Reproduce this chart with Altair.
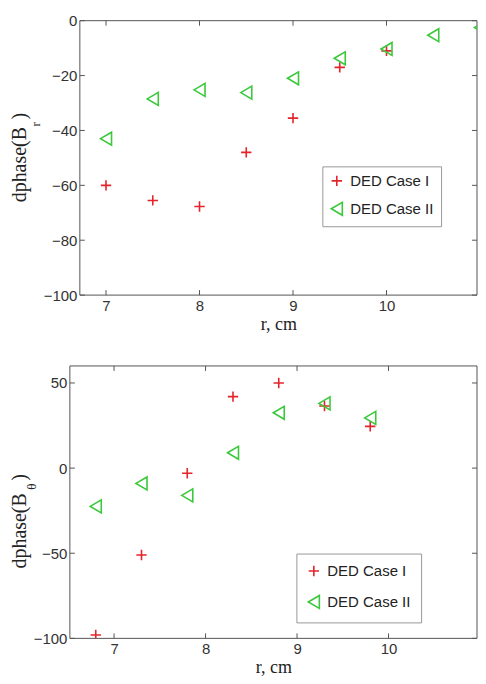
import altair as alt
import pandas as pd

# ---- data ----
series_names = ["DED Case I", "DED Case II"]

r_top_case1 = [7, 7.5, 8, 8.5, 9, 9.5, 10]
dphase_br_case1 = [-60, -65.5, -67.7, -48, -35.5, -17, -11]
r_top_case2 = [7, 7.5, 8, 8.5, 9, 9.5, 10, 10.5, 11]
dphase_br_case2 = [-43, -28.5, -25.2, -26.2, -21, -13.7, -10.3, -5.3, -2.5]

r_bot = [6.8, 7.3, 7.8, 8.3, 8.8, 9.3, 9.8]
dphase_bt_case1 = [-98, -51, -3, 42, 50, 36.5, 24.5]
dphase_bt_case2 = [-22.5, -9, -16, 9, 32.5, 38, 29.5]

top_xdomain = [6.72, 10.968]
top_ydomain = [-100, 0]
bot_xdomain = [6.517, 10.967]
bot_ydomain = [-100, 60]
top_xticks = [7, 8, 9, 10]
top_yticks = [-100, -80, -60, -40, -20, 0]
bot_xticks = [7, 8, 9, 10]
bot_yticks = [-100, -50, 0, 50]

RED = "#e3242b"
GREEN = "#3cc83c"
AX = "#555555"
PLUS = "M-0.8,0H0.8M0,-0.8V0.8"
TRI = "M-0.85,0L0.85,-1L0.85,1Z"


def make_df(xa, ya, xb, yb):
    return pd.DataFrame({
        "r": list(xa) + list(xb),
        "v": list(ya) + list(yb),
        "series": [series_names[0]] * len(xa) + [series_names[1]] * len(xb),
    })


def panel(df, xdom, ydom, xticks, yticks, W, H, x0, leg_opts, title_main, title_sub, tpos):
    xs = alt.Scale(domain=xdom, range=[x0, W], nice=False, zero=False)
    ys = alt.Scale(domain=ydom, nice=False, zero=False)
    xax = alt.Axis(values=xticks, title="r, cm", grid=False, ticks=False, domain=False,
                   labelFont="Liberation Sans", labelFontSize=15, labelColor="#333",
                   labelPadding=3, titleFont="Liberation Serif", titleFontSize=18,
                   titleFontWeight="normal", titleColor="#222", titlePadding=2,
                   format="d")
    yax = alt.Axis(values=yticks, title=None, grid=False, ticks=False, domain=False,
                   labelFont="Liberation Sans", labelFontSize=15, labelColor="#333",
                   labelPadding=3, offset=-x0, format="d")
    leg = alt.Legend(title=None, orient="none", fillColor="white", strokeColor="#999",
                     labelFont="Liberation Sans", labelFontSize=15, labelColor="#222",
                     symbolSize=169, symbolStrokeWidth=1.6, labelOffset=6, **leg_opts)
    frame = alt.Chart(pd.DataFrame({"a": [0]})).mark_rect(
        fill="transparent", stroke=AX, strokeWidth=1).encode(
        x=alt.X(datum=xdom[0], scale=xs, axis=xax, type="quantitative"),
        x2=alt.X2(datum=xdom[1]),
        y=alt.Y(datum=ydom[0], scale=ys, axis=yax, type="quantitative"),
        y2=alt.Y2(datum=ydom[1]),
    )
    pts = alt.Chart(df).mark_point(filled=False, strokeWidth=1.6, size=169, opacity=1, clip=True).encode(
        x=alt.X("r:Q", scale=xs, axis=xax),
        y=alt.Y("v:Q", scale=ys, axis=yax),
        color=alt.Color("series:N", scale=alt.Scale(domain=series_names, range=[RED, GREEN]), legend=leg),
        shape=alt.Shape("series:N", scale=alt.Scale(domain=series_names, range=[PLUS, TRI]), legend=leg),
    )
    xt = alt.Chart(pd.DataFrame({"t": xticks}))
    yt = alt.Chart(pd.DataFrame({"t": yticks}))
    tb = xt.mark_rule(color=AX).encode(x=alt.X("t:Q", scale=xs, axis=xax), y=alt.value(H), y2=alt.value(H - 5))
    tt = xt.mark_rule(color=AX).encode(x=alt.X("t:Q", scale=xs, axis=xax), y=alt.value(0), y2=alt.value(5))
    tl = yt.mark_rule(color=AX).encode(y=alt.Y("t:Q", scale=ys, axis=yax), x=alt.value(x0), x2=alt.value(x0 + 5))
    tr = yt.mark_rule(color=AX).encode(y=alt.Y("t:Q", scale=ys, axis=yax), x=alt.value(W), x2=alt.value(W - 5))

    def txt(s, x, y, size):
        return alt.Chart(pd.DataFrame({"s": [s]})).mark_text(
            angle=270, align="left", baseline="alphabetic", font="Liberation Serif",
            fontSize=size, color="#222").encode(x=alt.value(x), y=alt.value(y), text="s:N")

    (mx, my, sx, sy, px, py) = tpos
    t1 = txt(title_main, mx, my, 20)
    t2 = txt(title_sub, sx, sy, 13)
    t3 = txt(")", px, py, 20)
    return alt.layer(frame, tb, tt, tl, tr, pts, t1, t2, t3).properties(width=W, height=H)


top_df = make_df(r_top_case1, dphase_br_case1, r_top_case2, dphase_br_case2)
bot_df = make_df(r_bot, dphase_bt_case1, r_bot, dphase_bt_case2)

top = panel(top_df, top_xdomain, top_ydomain, top_xticks, top_yticks, 408, 275, 10,
            dict(legendX=253, legendY=146, padding=7, rowPadding=9),
            "dphase(B", "r", (-44, 182, -30, 106, -44, 99))
bottom = panel(bot_df, bot_xdomain, bot_ydomain, bot_xticks, bot_yticks, 408, 273, 0,
               dict(legendX=227, legendY=188, padding=10, rowPadding=12),
               "dphase(B", "θ", (-44, 203, -34, 124, -44, 115))

chart = alt.vconcat(top, bottom, spacing=32).properties(
    padding={"left": 2, "top": 5, "right": 0, "bottom": 0}
).resolve_scale(color="independent", shape="independent").resolve_legend(
    color="independent", shape="independent"
).configure_view(strokeWidth=0)

chart.save("out.html", embed_options={"renderer": "svg", "actions": False})
